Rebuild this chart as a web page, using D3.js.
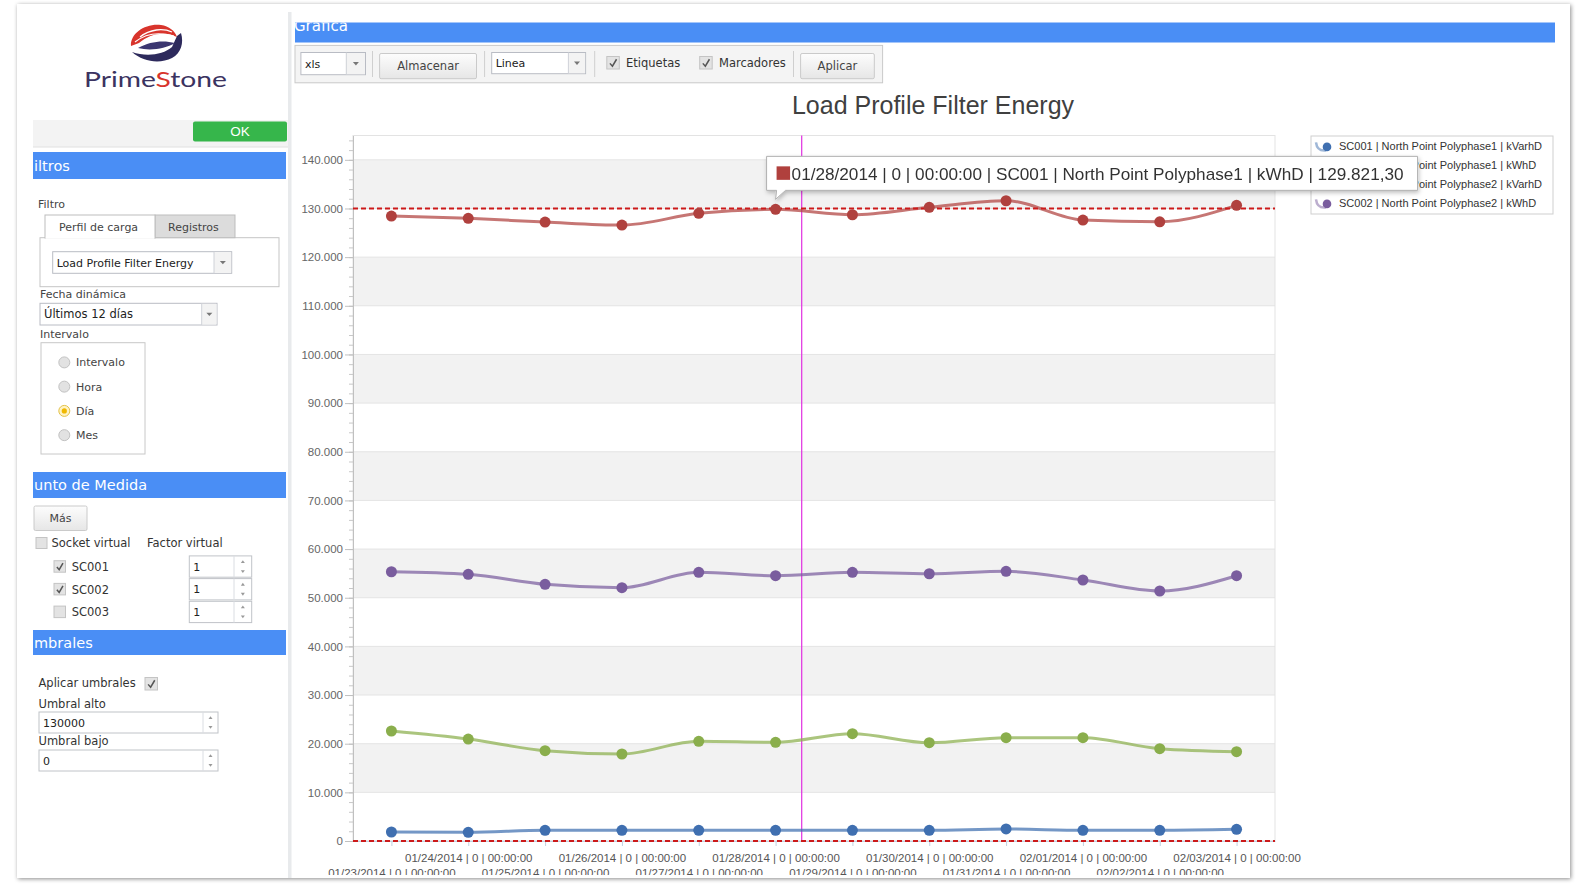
<!DOCTYPE html>
<html><head><meta charset="utf-8">
<script src="https://cdn.jsdelivr.net/npm/d3@7"></script>
<style>body{margin:0;background:#fff;overflow:hidden}svg{display:block}</style>
</head><body>
<svg id="c" width="1583" height="892">
<defs>
<filter id="fs" x="-2%" y="-2%" width="104%" height="104%"><feDropShadow dx="1" dy="1" stdDeviation="2" flood-color="#000" flood-opacity="0.45"/></filter>
<filter id="ts" x="-5%" y="-30%" width="110%" height="160%"><feDropShadow dx="1" dy="2" stdDeviation="2" flood-color="#000" flood-opacity="0.25"/></filter>
<linearGradient id="btn" x1="0" y1="0" x2="0" y2="1"><stop offset="0" stop-color="#fdfdfd"/><stop offset="1" stop-color="#e6e6e6"/></linearGradient>
<clipPath id="gclip"><rect x="294" y="22.5" width="1262" height="20"/></clipPath>
<clipPath id="chartClip"><rect x="293" y="84" width="1276" height="791"/></clipPath>
</defs>
</svg>
<script>
// ---------------- DATA ----------------
const categories = [
  "01/23/2014 | 0 | 00:00:00","01/24/2014 | 0 | 00:00:00","01/25/2014 | 0 | 00:00:00",
  "01/26/2014 | 0 | 00:00:00","01/27/2014 | 0 | 00:00:00","01/28/2014 | 0 | 00:00:00",
  "01/29/2014 | 0 | 00:00:00","01/30/2014 | 0 | 00:00:00","01/31/2014 | 0 | 00:00:00",
  "02/01/2014 | 0 | 00:00:00","02/02/2014 | 0 | 00:00:00","02/03/2014 | 0 | 00:00:00"];
const seriesNames = [
  "SC001 | North Point Polyphase1 | kVarhD",
  "SC001 | North Point Polyphase1 | kWhD",
  "SC002 | North Point Polyphase2 | kVarhD",
  "SC002 | North Point Polyphase2 | kWhD"];
const sc001KVarhD = [1850, 1790, 2200, 2200, 2200, 2200, 2200, 2200, 2470, 2200, 2200, 2400];
const sc001KWhD   = [128440, 127970, 127210, 126590, 129000, 129821.30, 128710, 130230, 131590, 127620, 127270, 130640];
const sc002KVarhD = [22610, 20960, 18560, 17880, 20490, 20280, 22050, 20200, 21230, 21230, 18970, 18350];
const sc002KWhD   = [55340, 54810, 52750, 52060, 55220, 54520, 55220, 54930, 55430, 53640, 51380, 54520];
const seriesColors = ["#3f6fb0", "#b0413e", "#8aae4c", "#7a5d9e"];
const yTicks = [0,10000,20000,30000,40000,50000,60000,70000,80000,90000,100000,110000,120000,130000,140000];
const yMax = 145000;
const thresholdHigh = 130000;
const thresholdLow = 0;
const tooltipSeries = 1, tooltipIndex = 5;
const hoverOffset = 0.34; // crosshair position, fraction of a step after the hovered category
const chartTitle = "Load Profile Filter Energy";

// ---------------- HELPERS ----------------
const svg = d3.select("#c");
const UI = "DejaVu Sans", CH = "Liberation Sans";
function txt(g, x, y, s, o = {}) {
  const t = g.append("text").attr("x", x).attr("y", y).text(s)
    .attr("font-family", o.family || UI).attr("font-size", o.size || 11)
    .attr("fill", o.fill || "#333").attr("text-anchor", o.anchor || "start");
  if (o.w) t.attr("textLength", o.w).attr("lengthAdjust", "spacingAndGlyphs");
  if (o.weight) t.attr("font-weight", o.weight);
  return t;
}
function rect(g, x, y, w, h, fill, stroke, sw) {
  return g.append("rect").attr("x", x).attr("y", y).attr("width", w).attr("height", h)
    .attr("fill", fill || "none").attr("stroke", stroke || "none").attr("stroke-width", sw || 1);
}
function arrow(g, cx, cy) {
  g.append("path").attr("d", `M${cx-3},${cy-1.5}L${cx+3},${cy-1.5}L${cx},${cy+1.8}Z`).attr("fill", "#777");
}
function dropdown(g, x, y, w, h, divX, label, size) {
  rect(g, x, y, w, h, "#fff", "#b9bcc4");
  rect(g, divX, y + 0.5, x + w - divX - 0.5, h - 1, "#f3f3f3");
  g.append("line").attr("x1", divX).attr("x2", divX).attr("y1", y).attr("y2", y + h).attr("stroke", "#cfd2d8");
  arrow(g, (divX + x + w) / 2, y + h / 2);
  txt(g, x + 4, y + h / 2 + 4, label, {size: size || 11, fill: "#222"});
}
function spinner(g, x, y, w, h, divX, label) {
  rect(g, x, y, w, h, "#fff", "#c0c3c8");
  g.append("line").attr("x1", divX).attr("x2", divX).attr("y1", y).attr("y2", y + h).attr("stroke", "#dadde2");
  const cx = (divX + x + w) / 2;
  g.append("path").attr("d", `M${cx-2},${y+h*0.33}L${cx+2},${y+h*0.33}L${cx},${y+h*0.2}Z`).attr("fill", "#999");
  g.append("path").attr("d", `M${cx-2},${y+h*0.67}L${cx+2},${y+h*0.67}L${cx},${y+h*0.8}Z`).attr("fill", "#999");
  txt(g, x + 4, y + h / 2 + 4, label, {size: 11, fill: "#222"});
}
function checkbox(g, x, y, s, checked) {
  rect(g, x, y, s, s, "#e3e3e3", "#c4c4c4");
  if (checked) g.append("path").attr("d", `M${x+s*0.25},${y+s*0.55}L${x+s*0.45},${y+s*0.78}L${x+s*0.78},${y+s*0.22}`)
    .attr("fill", "none").attr("stroke", "#555").attr("stroke-width", 1.5);
}
function button(g, x, y, w, h, label, size) {
  rect(g, x, y, w, h, "url(#btn)", "#cacaca").attr("rx", 1.5);
  txt(g, x + w / 2, y + h / 2 + 4, label, {size: size || 11, fill: "#444", anchor: "middle"});
}
function header(g, y, h, label) {
  rect(g, 33, y, 253, h, "#4a8ef5");
  txt(g, 34, y + h / 2 + 5, label, {size: 14.5, fill: "#fff"});
}

// ---------------- PAGE FRAME ----------------
rect(svg, 17, 4, 1553, 874, "#fff").attr("filter", "url(#fs)");

// ---------------- LEFT PANEL ----------------
const L = svg.append("g");
// logo
L.append("path").attr("d", "M131,46 C130,33 146,23 161,25 C169,26 175,31 177,37 C166,31 150,33 139,43 Z").attr("fill", "#d8342c");
L.append("path").attr("d", "M140,37 C150,29 163,28 172,32").attr("stroke", "#fff").attr("stroke-width", 1.3).attr("fill", "none");
L.append("path").attr("d", "M135,42 C146,33 160,32 174,36").attr("stroke", "#fff").attr("stroke-width", 1.1).attr("fill", "none");
L.append("path").attr("d", "M177,36 L181,33 C184,43 181,53 172,58 C160,64 143,62 132,52 C146,57 163,55 172,47 Z").attr("fill", "#2d2a5c");
L.append("path").attr("d", "M138,48 C150,41 164,40 175,43 C165,49 150,51 138,48 Z").attr("fill", "#3b3670");
const logoT = txt(L, 84, 87, "", {family: "Lato", size: 22, fill: "#3b3361", w: 143});
logoT.append("tspan").text("Prime");
logoT.append("tspan").attr("fill", "#d8342c").text("S");
logoT.append("tspan").text("tone");

// OK bar
rect(L, 33, 120, 255, 27, "#f3f3f3");
L.append("line").attr("x1", 33).attr("x2", 288).attr("y1", 147).attr("y2", 147).attr("stroke", "#e0e0e0");
rect(L, 193, 121.5, 94, 20, "#36b64b").attr("rx", 2);
txt(L, 240, 136, "OK", {family: CH, size: 13.5, fill: "#fff", anchor: "middle"});

header(L, 152, 27, "iltros");
txt(L, 38, 208, "Filtro", {fill: "#444"});
// tabs
rect(L, 40, 237.7, 239, 49, "#fff", "#c5c5c5");
rect(L, 155, 215, 80, 22.7, "#dcdcdc", "#bdbdbd");
rect(L, 45, 215, 110, 23, "#fff", "#bdbdbd");
rect(L, 45.6, 236.8, 108.8, 2, "#fff");
txt(L, 59, 231, "Perfil de carga", {fill: "#444"});
txt(L, 168, 231, "Registros", {fill: "#444"});
dropdown(L, 52.7, 251.7, 179, 21.6, 214, "Load Profile Filter Energy", 11);

txt(L, 40, 298, "Fecha dinámica", {fill: "#444"});
dropdown(L, 40, 303.3, 177, 21.7, 201.7, "Últimos 12 días", 11.5);
txt(L, 40, 338, "Intervalo", {fill: "#444"});
rect(L, 41, 342.7, 104, 111.3, "#fff", "#c8c8c8");
["Intervalo", "Hora", "Día", "Mes"].forEach((s, i) => {
  const cy = 362.4 + i * 24.25;
  L.append("circle").attr("cx", 64.3).attr("cy", cy).attr("r", 5.5).attr("fill", i === 2 ? "#fff3c4" : "#e2e2e2").attr("stroke", i === 2 ? "#e3c24a" : "#c2c2c2");
  if (i === 2) L.append("circle").attr("cx", 64.3).attr("cy", cy).attr("r", 2.6).attr("fill", "#f0b800");
  txt(L, 76, cy + 4, s, {fill: "#444"});
});

header(L, 472, 26, "unto de Medida");
button(L, 34, 506, 53, 24.5, "Más");
checkbox(L, 36, 537.5, 11, false);
txt(L, 51.5, 547, "Socket virtual", {size: 11.5});
txt(L, 147, 547, "Factor virtual", {size: 11.5});
["SC001", "SC002", "SC003"].forEach((s, i) => {
  const cy = 566.5 + i * 22.7;
  checkbox(L, 54, cy - 5.8, 11.5, i < 2);
  txt(L, 71.7, cy + 4.5, s, {size: 11.5});
  spinner(L, 189.3, cy - 10.6, 62.4, 21.3, 234, "1");
});

header(L, 630, 25, "mbrales");
txt(L, 38.5, 687, "Aplicar umbrales", {size: 11.5});
checkbox(L, 145, 677.5, 12.5, true);
txt(L, 38.5, 707.5, "Umbral alto", {size: 11.5});
spinner(L, 39, 712, 179, 21, 203, "130000");
txt(L, 38.5, 745, "Umbral bajo", {size: 11.5});
spinner(L, 39, 750, 179, 21, 203, "0");

// splitter
rect(svg, 288, 12, 3.5, 866, "#e8eaec");

// ---------------- RIGHT PANEL: header & toolbar ----------------
const R = svg.append("g");
rect(R, 295, 22.5, 1260, 20, "#4a8ef5");
txt(R, 294, 31, "Grafica", {size: 15, fill: "#fff"}).attr("clip-path", "url(#gclip)");
rect(R, 295, 45.4, 587.6, 37.4, "#f4f4f4", "#c9c9c9");
dropdown(R, 300.9, 52.5, 64.6, 22.2, 346.3, "xls", 11);
function sep(x) { R.append("line").attr("x1", x).attr("x2", x).attr("y1", 51).attr("y2", 77).attr("stroke", "#cfcfcf"); }
sep(372.5);
button(R, 379.6, 53.5, 96.9, 25.2, "Almacenar", 11.5);
sep(484.6);
dropdown(R, 491.7, 52.5, 93.9, 21.2, 568.4, "Linea", 11);
sep(594.7);
checkbox(R, 606.8, 56.5, 12.5, true);
txt(R, 626, 67, "Etiquetas", {size: 11.5});
checkbox(R, 699.7, 56.5, 12.5, true);
txt(R, 719, 67, "Marcadores", {size: 11.5});
sep(793.5);
button(R, 800.6, 53.5, 73.7, 25.2, "Aplicar", 11.5);

// ---------------- CHART ----------------
const C = svg.append("g").attr("clip-path", "url(#chartClip)");
const plot = {l: 353, r: 1275, t: 135.5, b: 841};
const x = d3.scalePoint().domain(categories).range([plot.l, plot.r]).padding(0.5);
const y = d3.scaleLinear().domain([0, yMax]).range([plot.b, plot.t]);
const loc = d3.formatLocale({decimal: ",", thousands: ".", grouping: [3], currency: ["", ""]});
const fmtTick = loc.format(","), fmtVal = loc.format(",.2f");

txt(C, 933, 114, chartTitle, {family: CH, size: 25, fill: "#404040", anchor: "middle"});

// alternate bands
C.selectAll("rect.band").data(yTicks.filter(v => (v / 10000) % 2 === 1)).join("rect").attr("class", "band")
  .attr("x", plot.l).attr("width", plot.r - plot.l)
  .attr("y", d => y(d + 10000)).attr("height", d => y(d) - y(d + 10000)).attr("fill", "#f2f2f2");
C.selectAll("line.grid").data(yTicks).join("line").attr("class", "grid")
  .attr("x1", plot.l).attr("x2", plot.r).attr("y1", d => y(d)).attr("y2", d => y(d)).attr("stroke", "#e4e4e4");
rect(C, plot.l, plot.t, plot.r - plot.l, plot.b - plot.t, "none", "#e3e3e3");

// y axis
const minor = C.append("g").attr("transform", `translate(${plot.l},0)`)
  .call(d3.axisLeft(y).tickValues(d3.range(0, yMax, 2000)).tickSize(4).tickFormat(""));
minor.selectAll("line").attr("stroke", "#c8c8c8");
minor.select(".domain").remove();
const yAx = C.append("g").attr("transform", `translate(${plot.l},0)`)
  .call(d3.axisLeft(y).tickValues(yTicks).tickSize(8).tickPadding(2).tickFormat(fmtTick).tickSizeOuter(0));
yAx.select(".domain").attr("stroke", "#c0c0c0");
yAx.selectAll(".tick line").attr("stroke", "#c0c0c0");
yAx.selectAll(".tick text").attr("font-family", CH).attr("font-size", 11.5).attr("fill", "#666");

// x axis
const xAx = C.append("g").attr("transform", `translate(0,${plot.b})`)
  .call(d3.axisBottom(x).tickSize(5).tickSizeOuter(0));
xAx.select(".domain").attr("stroke", "#c0d0e0");
xAx.selectAll(".tick line").attr("stroke", "#c0d0e0");
xAx.selectAll(".tick text").attr("y", (d, i) => i % 2 ? 21 : 36).attr("dy", 0)
  .attr("font-family", CH).attr("font-size", 11.5).attr("fill", "#555");

// crosshair
const hx = x(categories[tooltipIndex]) + x.step() * hoverOffset;
C.append("line").attr("x1", hx).attr("x2", hx).attr("y1", plot.t).attr("y2", plot.b).attr("stroke", "#e030e0").attr("stroke-width", 1.2);

// series
const allSeries = [sc001KVarhD, sc001KWhD, sc002KVarhD, sc002KWhD];
const line = d3.line().x((d, i) => x(categories[i])).y(d => y(d)).curve(d3.curveMonotoneX);
C.selectAll("path.series").data(allSeries).join("path").attr("class", "series")
  .attr("d", line).attr("fill", "none").attr("stroke", (d, i) => seriesColors[i])
  .attr("stroke-width", 3).attr("stroke-opacity", 0.72).attr("stroke-linecap", "round");

// thresholds
C.selectAll("line.thr").data([thresholdHigh, thresholdLow]).join("line").attr("class", "thr")
  .attr("x1", plot.l).attr("x2", plot.r).attr("y1", d => y(d)).attr("y2", d => y(d))
  .attr("stroke", "#cc1a1a").attr("stroke-width", 2).attr("stroke-dasharray", "5,3");

// markers
allSeries.forEach((s, si) => {
  C.selectAll(null).data(s).join("circle")
    .attr("cx", (d, i) => x(categories[i])).attr("cy", d => y(d)).attr("r", 5.5).attr("fill", seriesColors[si]);
});

// legend
const lg = C.append("g");
rect(lg, 1311, 136, 242, 78, "#fff", "#cfcfcf");
seriesNames.forEach((s, i) => {
  const cy = 146.4 + i * 19;
  lg.append("path").attr("d", `M1316,${cy-4} Q1317,${cy+5} 1326,${cy+4}`).attr("fill", "none")
    .attr("stroke", seriesColors[i]).attr("stroke-opacity", 0.5).attr("stroke-width", 2.5);
  lg.append("circle").attr("cx", 1327).attr("cy", cy + 0.5).attr("r", 4.3).attr("fill", seriesColors[i]);
  txt(lg, 1339, cy + 4, s, {family: CH, size: 11, fill: "#333"});
});

// tooltip
const tv = allSeries[tooltipSeries][tooltipIndex];
const tx = x(categories[tooltipIndex]), ty = y(tv) - 10;
const tg = C.append("g").attr("filter", "url(#ts)");
tg.append("path").attr("d", `M${tx-9},${ty-43} H${tx+642} V${ty-9} H${tx+10} L${tx},${ty} L${tx+1},${ty-9} H${tx-9} Z`)
  .attr("fill", "#fff").attr("stroke", "#b0b0b0").attr("stroke-linejoin", "round");
rect(tg, tx + 1, ty - 33, 13.5, 13.5, seriesColors[tooltipSeries]);
txt(tg, tx + 16, ty - 19.5, `${categories[tooltipIndex]} | ${seriesNames[tooltipSeries]} | ${fmtVal(tv)}`,
  {family: CH, size: 17, fill: "#333", w: 612});
</script>
</body></html>
